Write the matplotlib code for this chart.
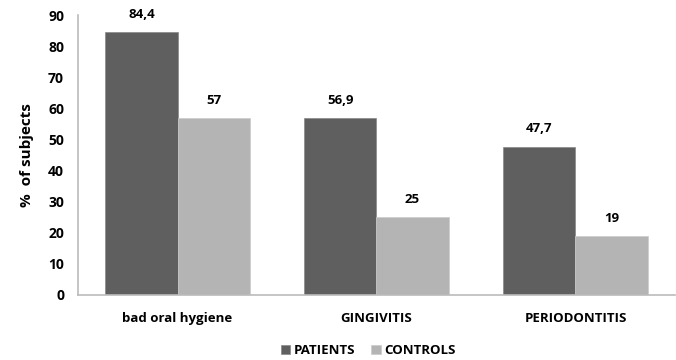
import numpy as np
import matplotlib.pyplot as plt

categories = ["bad oral hygiene", "GINGIVITIS", "PERIODONTITIS"]
patients = [84.4, 56.9, 47.7]
controls = [57, 25, 19]
patient_labels = ["84,4", "56,9", "47,7"]
control_labels = ["57", "25", "19"]

plt.rcParams['font.family'] = ['Open Sans', 'DejaVu Sans']

fig = plt.figure(figsize=(6.76, 3.6), dpi=100)
ax = fig.add_axes([0.1154, 0.1806, 0.8831, 0.7777])

x = np.arange(len(categories))
w = 0.362
dark = "#5f5f5f"
light = "#b4b4b4"
b1 = ax.bar(x - w/2, patients, w, color=dark, edgecolor="#888888", linewidth=0.5, label="PATIENTS")
b2 = ax.bar(x + w/2, controls, w, color=light, edgecolor="#cccccc", linewidth=0.5, label="CONTROLS")

for i in range(len(x)):
    ax.annotate(patient_labels[i], (x[i] - w/2, patients[i]), xytext=(0, 8), textcoords="offset points",
                ha="center", va="bottom", fontsize=9.5, fontweight="bold")
    ax.annotate(control_labels[i], (x[i] + w/2, controls[i]), xytext=(0, 8), textcoords="offset points",
                ha="center", va="bottom", fontsize=9.5, fontweight="bold")

ax.set_xlim(-0.5, 2.5)
ax.set_ylim(0, 90)
ax.set_yticks(np.arange(0, 91, 10))
ax.set_xticks(x)
ax.set_xticklabels(categories, fontsize=9.5, fontweight="bold")
ax.tick_params(axis="y", length=0, labelsize=10, pad=10)
ax.tick_params(axis="x", length=0, pad=12)
for t in ax.get_yticklabels():
    t.set_fontweight("bold")
ax.spines["top"].set_visible(False)
ax.spines["right"].set_visible(False)
ax.spines["left"].set_color("#bbbbbb")
ax.spines["bottom"].set_color("#bbbbbb")
ax.spines["left"].set_linewidth(1.2)
ax.spines["bottom"].set_linewidth(1.2)
ax.set_ylabel("%  of subjects", fontsize=11, fontweight="bold", labelpad=10)

fig.legend(handles=[b1, b2], loc="center", bbox_to_anchor=(0.545, 0.027), ncol=2, frameon=False,
           handlelength=0.7, handleheight=0.7, handletextpad=0.3, columnspacing=1.2,
           prop={"weight": "bold", "size": 9.5})

fig.savefig("out.png", dpi=100)
